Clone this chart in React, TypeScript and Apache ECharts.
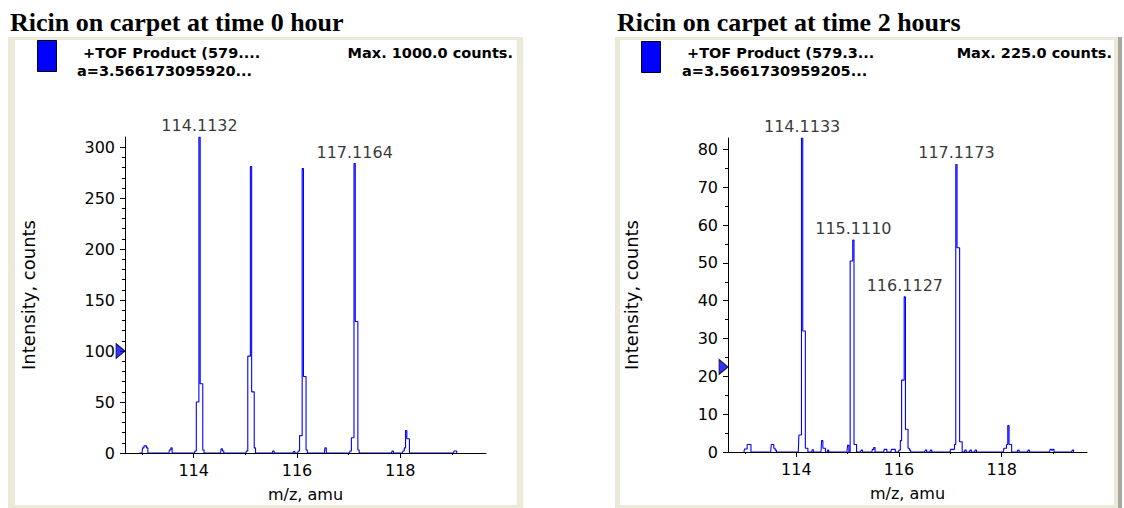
import React, { useEffect, useRef } from "react";
import * as echarts from "echarts";

// ---------- data ----------
const mzRange = [112.67, 119.66];
const xMajorTicks = [114, 116, 118];
const xMinorTicks = [113, 115, 117, 119];

// Spectrum at time 0 hour: [m/z, intensity counts]
const spectrum0h: [number, number][] = [
  [112.95, 0],
  [113.0, 0], [113.025, 5], [113.05, 7], [113.075, 7], [113.1, 5], [113.125, 0],
  [113.52, 0], [113.545, 3], [113.57, 5], [113.595, 0],
  [114.0132, 0], [114.0382, 2], [114.0632, 50], [114.0882, 50], [114.1132, 310], [114.1382, 68], [114.1632, 68], [114.1882, 3], [114.2132, 0],
  [114.52, 0], [114.545, 4], [114.57, 2], [114.595, 0],
  [115.01, 0], [115.035, 2], [115.06, 95], [115.085, 95], [115.11, 281], [115.135, 60], [115.16, 60], [115.185, 5], [115.21, 0],
  [115.52, 0], [115.545, 2], [115.57, 0],
  [115.92, 0], [115.945, 1.5], [115.97, 0],
  [116.013, 0], [116.038, 2], [116.063, 17], [116.088, 17], [116.113, 279], [116.138, 75], [116.163, 75], [116.188, 3], [116.213, 0],
  [116.53, 0], [116.555, 5], [116.58, 0],
  [117.0164, 0], [117.0414, 2], [117.0664, 15], [117.0914, 15], [117.1164, 284], [117.1414, 129], [117.1664, 129], [117.1914, 3], [117.2164, 0],
  [117.83, 0], [117.855, 2], [117.88, 0],
  [118.04, 0], [118.065, 2], [118.09, 5], [118.115, 22], [118.14, 14], [118.165, 14], [118.19, 0],
  [119.03, 0], [119.055, 2], [119.08, 2], [119.105, 0],
];
const peakLabels0h: [number, number][] = [
  [114.1132, 310],
  [117.1164, 284],
];
const yMax0h = 310;
const yMajorTicks0h = [0, 50, 100, 150, 200, 250, 300];
const yMinorTicks0h = [10, 20, 30, 40, 60, 70, 80, 90, 110, 120, 130, 140, 160, 170, 180, 190, 210, 220, 230, 240, 260, 270, 280, 290];
const marker0h = [100];

// Spectrum at time 2 hours
const spectrum2h: [number, number][] = [
  [112.98, 0], [113.005, 0.8], [113.03, 0.8], [113.055, 2], [113.08, 2], [113.105, 2], [113.13, 0],
  [113.5, 0], [113.525, 2], [113.55, 2], [113.575, 1], [113.6, 0.5], [113.625, 0],
  [114.0133, 0], [114.0383, 0], [114.0633, 4.5], [114.0883, 4.5], [114.1133, 83], [114.1383, 32], [114.1633, 32], [114.1883, 1], [114.2133, 1], [114.2383, 0],
  [114.3, 0], [114.32, 0.6], [114.345, 0],
  [114.48, 0], [114.505, 3], [114.53, 1], [114.555, 1], [114.58, 0],
  [114.6, 0], [114.62, 0.5], [114.64, 0],
  [114.986, 0], [115.011, 1.8], [115.036, 0], [115.061, 50.5], [115.086, 50.5], [115.111, 56], [115.136, 2], [115.161, 2], [115.186, 0],
  [115.25, 0], [115.275, 0.5], [115.3, 0],
  [115.47, 0], [115.495, 0.7], [115.52, 1.2], [115.545, 0],
  [115.7, 0], [115.725, 0.7], [115.75, 0.7], [115.775, 0],
  [115.84, 0], [115.865, 0.7], [115.89, 0.7], [115.915, 0.7], [115.94, 0],
  [115.9877, 0], [116.0127, 0.5], [116.0377, 3], [116.0627, 19], [116.0877, 19], [116.1127, 41], [116.1377, 6], [116.1627, 6], [116.1877, 1], [116.2127, 0.5], [116.2377, 0],
  [116.5, 0], [116.525, 0.5], [116.55, 0], [116.6, 0], [116.625, 0.5], [116.65, 0],
  [116.9923, 0], [117.0173, 0.7], [117.0423, 0.7], [117.0673, 0.7], [117.0923, 2], [117.1173, 76], [117.1423, 54], [117.1673, 54], [117.1923, 2.7], [117.2173, 2.7], [117.2423, 0],
  [117.27, 0], [117.295, 0.5], [117.32, 0], [117.37, 0], [117.395, 0.5], [117.42, 0], [117.47, 0], [117.495, 0.5], [117.52, 0],
  [118.03, 0], [118.055, 1], [118.08, 1], [118.105, 2], [118.13, 7], [118.155, 2], [118.18, 2], [118.205, 0],
  [118.3, 0], [118.325, 0.5], [118.35, 0], [118.5, 0], [118.525, 0.5], [118.55, 0],
  [118.93, 0], [118.955, 0.7], [118.98, 0.5], [119.005, 0.7], [119.03, 0],
  [119.36, 0], [119.385, 0.5], [119.41, 0],
];
const peakLabels2h: [number, number][] = [
  [114.1133, 83],
  [115.111, 56],
  [116.1127, 41],
  [117.1173, 76],
];
const yMax2h = 83;
const yMajorTicks2h = [0, 10, 20, 30, 40, 50, 60, 70, 80];
const yMinorTicks2h = [5, 15, 25, 35, 45, 55, 65, 75];
const marker2h = [22.5];

const titles = ["Ricin on carpet at time 0 hour", "Ricin on carpet at time 2 hours"];
const traceNames = ["+TOF Product (579....", "+TOF Product (579.3..."];
const traceParams = ["a=3.566173095920...", "a=3.5661730959205..."];
const maxCounts = ["Max. 1000.0 counts.", "Max. 225.0 counts."];
const xAxisName = "m/z, amu";
const yAxisName = "Intensity, counts";

// ---------- styling ----------
const SANS = "DejaVu Sans";
const TXT = "#000000";
const BLUE = "#0000FF";
const BEIGE = "#ECE9D8";

const panels = [
  {
    frame: { x: 8, y: 37, w: 515, h: 471 },
    inner: { x: 15, y: 40, w: 502, h: 465 },
    edge: null as null | { x: number; w: number },
    titleX: 10,
    rect: { x: 37, y: 40 },
    nameX: 83,
    paramX: 77,
    maxRight: 513,
    grid: { left: 125, top: 137, width: 361, height: 316 },
  },
  {
    frame: { x: 615, y: 37, w: 507, h: 471 },
    inner: { x: 620, y: 40, w: 494, h: 465 },
    edge: { x: 1118, w: 4 },
    titleX: 617,
    rect: { x: 641, y: 41 },
    nameX: 687,
    paramX: 682,
    maxRight: 1112,
    grid: { left: 728, top: 138, width: 359, height: 314 },
  },
];

const spectra = [spectrum0h, spectrum2h];
const peakLabels = [peakLabels0h, peakLabels2h];
const yMaxes = [yMax0h, yMax2h];
const yMajors = [yMajorTicks0h, yMajorTicks2h];
const yMinors = [yMinorTicks0h, yMinorTicks2h];
const markers = [marker0h, marker2h];

function buildOption() {
  const graphic: any[] = [];
  panels.forEach((p, i) => {
    graphic.push({
      type: "rect",
      z: -10,
      shape: { x: p.frame.x, y: p.frame.y, width: p.frame.w, height: p.frame.h },
      style: { fill: BEIGE },
    });
    graphic.push({
      type: "rect",
      z: -9,
      shape: { x: p.inner.x, y: p.inner.y, width: p.inner.w, height: p.inner.h },
      style: { fill: "#ffffff" },
    });
    if (p.edge) {
      graphic.push({
        type: "rect",
        z: -8,
        shape: { x: p.edge.x, y: p.frame.y, width: p.edge.w, height: p.frame.h },
        style: { fill: "#A7A6A0" },
      });
    }
    graphic.push({
      type: "text",
      x: p.titleX,
      y: 22,
      style: {
        text: titles[i],
        font: 'bold 26px "Liberation Serif", "Times New Roman", serif',
        fill: "#000",
        verticalAlign: "middle",
        align: "left",
      },
    });
    graphic.push({
      type: "rect",
      shape: { x: p.rect.x + 0.5, y: p.rect.y + 0.5, width: 19, height: 31 },
      style: { fill: BLUE, stroke: "#000", lineWidth: 1 },
    });
    graphic.push({
      type: "text",
      x: p.nameX,
      y: 53,
      style: {
        text: traceNames[i],
        font: `bold 14.5px "${SANS}"`,
        fill: TXT,
        verticalAlign: "middle",
        align: "left",
      },
    });
    graphic.push({
      type: "text",
      x: p.paramX,
      y: 71,
      style: {
        text: traceParams[i],
        font: `bold 14.5px "${SANS}"`,
        fill: TXT,
        verticalAlign: "middle",
        align: "left",
      },
    });
    graphic.push({
      type: "text",
      x: p.maxRight,
      y: 52.5,
      style: {
        text: maxCounts[i],
        font: `bold 14.5px "${SANS}"`,
        fill: TXT,
        verticalAlign: "middle",
        align: "right",
      },
    });
  });

  const grid = panels.map((p) => ({ ...p.grid }));
  const xAxis: any[] = [];
  const yAxis: any[] = [];
  const series: any[] = [];

  panels.forEach((_p, i) => {
    xAxis.push({
      type: "value",
      gridIndex: i,
      min: mzRange[0],
      max: mzRange[1],
      z: 3,
      name: xAxisName,
      nameLocation: "middle",
      nameGap: 33,
      nameTextStyle: { fontFamily: SANS, fontSize: 16, color: TXT },
      axisLine: { show: true, onZero: false, lineStyle: { color: "#000", width: 1 } },
      axisTick: { show: true, length: 5, customValues: xMajorTicks, lineStyle: { color: "#000" } },
      axisLabel: { show: true, customValues: xMajorTicks, margin: 9, fontFamily: SANS, fontSize: 16, color: TXT },
      splitLine: { show: false },
    });
    xAxis.push({
      type: "value",
      gridIndex: i,
      min: mzRange[0],
      max: mzRange[1],
      position: "bottom",
      axisLine: { show: false, onZero: false },
      axisTick: { show: true, length: 2, customValues: xMinorTicks, lineStyle: { color: "#000" } },
      axisLabel: { show: false },
      splitLine: { show: false },
    });
    yAxis.push({
      type: "value",
      gridIndex: i,
      min: 0,
      max: yMaxes[i],
      name: yAxisName,
      nameLocation: "middle",
      nameGap: 88,
      nameRotate: 90,
      nameTextStyle: { fontFamily: SANS, fontSize: 18, color: TXT },
      axisLine: { show: true, lineStyle: { color: "#000", width: 1 } },
      axisTick: { show: true, length: 5, customValues: yMajors[i], lineStyle: { color: "#000" } },
      axisLabel: { show: true, customValues: yMajors[i], margin: 10, fontFamily: SANS, fontSize: 16, color: TXT },
      splitLine: { show: false },
    });
    yAxis.push({
      type: "value",
      gridIndex: i,
      min: 0,
      max: yMaxes[i],
      position: "left",
      axisLine: { show: false },
      axisTick: { show: true, length: 3, customValues: yMinors[i], lineStyle: { color: "#000" } },
      axisLabel: { show: false },
      splitLine: { show: false },
    });

    series.push({
      type: "line",
      xAxisIndex: i * 2,
      yAxisIndex: i * 2,
      data: spectra[i],
      step: "middle",
      showSymbol: false,
      symbol: "none",
      lineStyle: { color: BLUE, width: 1.1 },
      itemStyle: { color: BLUE },
      z: 2,
      silent: true,
    });
    series.push({
      type: "scatter",
      xAxisIndex: i * 2,
      yAxisIndex: i * 2,
      data: peakLabels[i],
      symbolSize: 1,
      itemStyle: { color: "rgba(0,0,0,0)" },
      clip: false,
      label: {
        show: true,
        position: "top",
        distance: 3,
        formatter: (p: any) => Number(p.value[0]).toFixed(4),
        fontFamily: SANS,
        fontSize: 16,
        color: TXT,
      },
      silent: true,
    });
    series.push({
      type: "scatter",
      xAxisIndex: i * 2,
      yAxisIndex: i * 2,
      data: markers[i].map((v) => [mzRange[0], v]),
      symbol: "path://M0,0L10,7L0,14Z",
      symbolSize: [9, 15],
      symbolKeepAspect: false,
      symbolOffset: [-4.5, 0],
      itemStyle: { color: BLUE, borderColor: "#000", borderWidth: 1 },
      clip: false,
      z: 4,
      silent: true,
    });
  });

  return {
    animation: false,
    backgroundColor: "#ffffff",
    graphic,
    grid,
    xAxis,
    yAxis,
    series,
  };
}

export default function App() {
  const ref = useRef<HTMLDivElement>(null);
  useEffect(() => {
    if (!ref.current) return;
    const chart = echarts.init(ref.current, undefined, { renderer: "svg" });
    chart.setOption(buildOption() as any);
    return () => chart.dispose();
  }, []);
  return (
    <div
      ref={ref}
      style={{ position: "absolute", left: 0, top: 0, width: 1124, height: 508, background: "#fff" }}
    />
  );
}
